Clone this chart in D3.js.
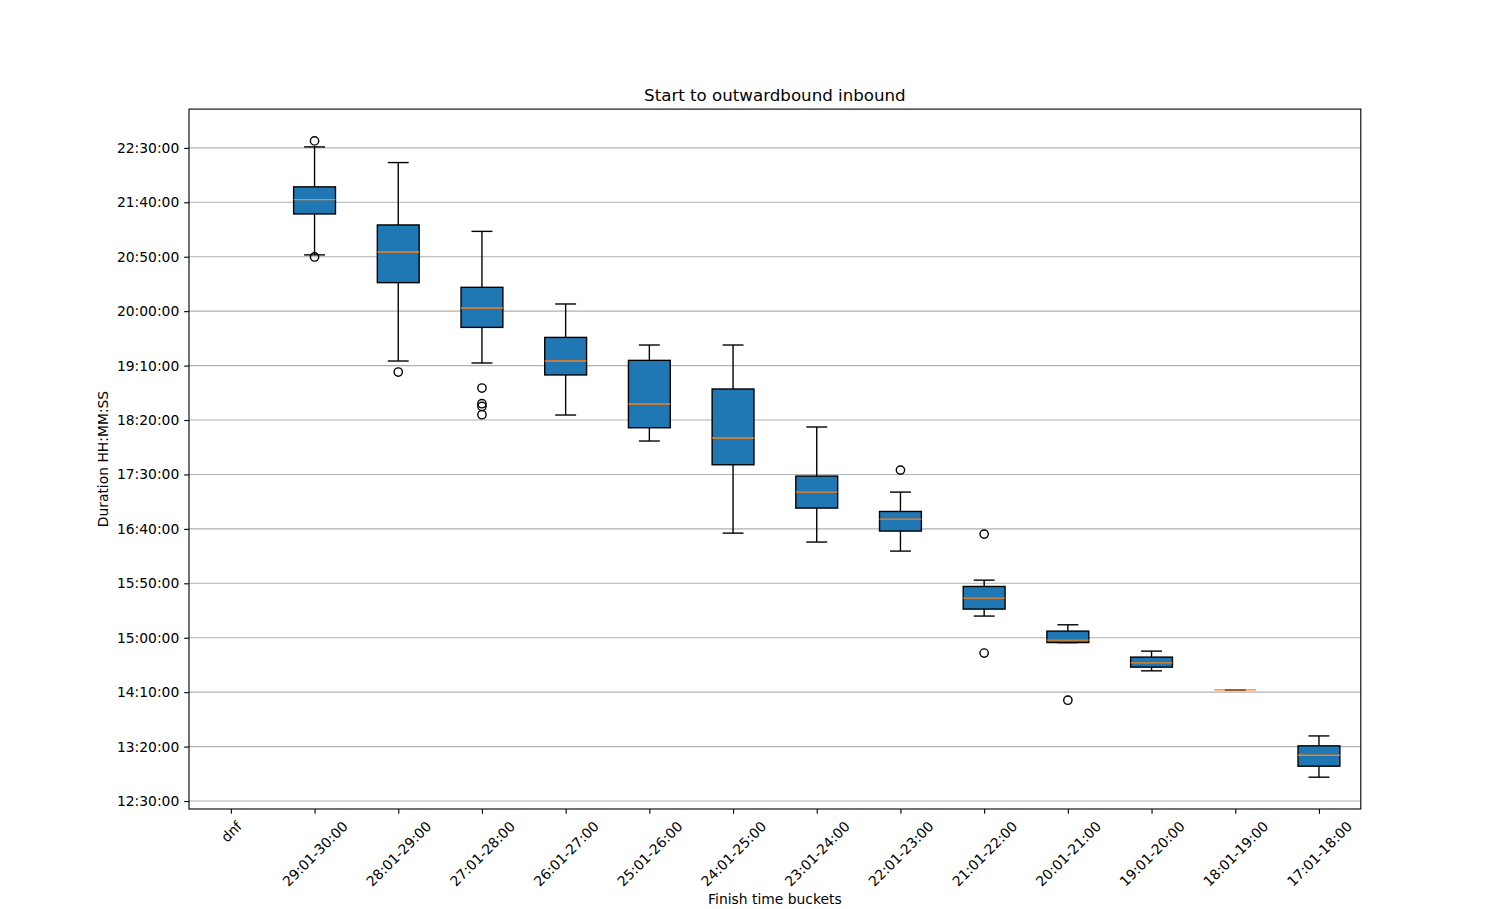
<!DOCTYPE html>
<html>
<head>
<meta charset="utf-8">
<script src="https://cdn.jsdelivr.net/npm/d3@7/dist/d3.min.js"></script>
<style>
  html, body { margin: 0; padding: 0; background: #fff; }
  svg text { font-family: "DejaVu Sans", sans-serif; fill: #000; }
</style>
</head>
<body>
<svg id="chart" width="1512" height="909"></svg>
<script>
// ---- data (durations in minutes) ----
const categories = ["dnf","29:01-30:00","28:01-29:00","27:01-28:00","26:01-27:00","25:01-26:00","24:01-25:00","23:01-24:00","22:01-23:00","21:01-22:00","20:01-21:00","19:01-20:00","18:01-19:00","17:01-18:00"];
const whiskerLow  = [null, 1251.7, 1154.2, 1152.4, 1104.6, 1080.7,  996.1,  987.9,  979.6, 919.9, 895.5, 869.6, 852.1, 771.9];
const quartile1   = [null, 1289.3, 1226.2, 1185.1, 1141.4, 1092.9, 1058.9, 1019.1,  998.0, 926.3, 895.6, 873.0, 852.1, 782.0];
const medians     = [null, 1302.5, 1254.4, 1202.9, 1154.2, 1114.7, 1083.5, 1033.8, 1009.0, 936.4, 897.8, 876.9, 852.1, 792.1];
const quartile3   = [null, 1314.2, 1279.2, 1221.9, 1175.9, 1154.8, 1128.5, 1048.5, 1016.0, 947.1, 906.1, 882.2, 852.1, 800.7];
const whiskerHigh = [null, 1350.9, 1336.5, 1273.3, 1206.6, 1168.9, 1168.9, 1093.6, 1033.8, 952.9, 911.9, 887.7, 852.1, 809.8];
const fliers = [[], [1356.4, 1249.8], [1144.1], [1129.4, 1115.0, 1112.5, 1104.9], [], [], [], [], [1054.0], [995.2, 885.9], [842.6], [], [], []];
const yTickValues = [750, 800, 850, 900, 950, 1000, 1050, 1100, 1150, 1200, 1250, 1300, 1350];

const titleText = "Start to outwardbound inbound";
const xLabelText = "Finish time buckets";
const yLabelText = "Duration HH:MM:SS";

(function () {
// ---- layout ----
const padL = 189, padR = 1360.8, padT = 109.1, padB = 809;
const pt = 100 / 72;
const svg = d3.select("#chart");

// domain like matplotlib (5% margins)
const allVals = [];
categories.forEach((c, i) => {
  if (whiskerLow[i] != null) allVals.push(whiskerLow[i], whiskerHigh[i]);
  fliers[i].forEach(v => allVals.push(v));
});
const vmin = d3.min(allVals), vmax = d3.max(allVals);
const pad = (vmax - vmin) * 0.05;

const x = d3.scaleLinear().domain([0.5, categories.length + 0.5]).range([padL, padR]);
const y = d3.scaleLinear().domain([vmin - pad, vmax + pad]).range([padB, padT]);

const fmt = m => {
  const h = Math.floor(m / 60), mm = Math.round(m % 60);
  return String(h).padStart(2, "0") + ":" + String(mm).padStart(2, "0") + ":00";
};

// grid
svg.append("g").selectAll("line").data(yTickValues).join("line")
  .attr("x1", padL).attr("x2", padR)
  .attr("y1", d => y(d)).attr("y2", d => y(d))
  .attr("stroke", "#b0b0b0").attr("stroke-width", 0.8 * pt);

// boxes
const bw = (x(2) - x(1)) * 0.5;
const g = svg.append("g");
categories.forEach((c, i) => {
  if (whiskerLow[i] == null) return;
  const cx = x(i + 1);
  const lw = 1 * pt;
  g.append("line").attr("x1", cx).attr("x2", cx).attr("y1", y(quartile1[i])).attr("y2", y(whiskerLow[i]))
    .attr("stroke", "#000").attr("stroke-width", lw);
  g.append("line").attr("x1", cx).attr("x2", cx).attr("y1", y(quartile3[i])).attr("y2", y(whiskerHigh[i]))
    .attr("stroke", "#000").attr("stroke-width", lw);
  [whiskerLow[i], whiskerHigh[i]].forEach(v => {
    g.append("line").attr("x1", cx - bw / 4).attr("x2", cx + bw / 4).attr("y1", y(v)).attr("y2", y(v))
      .attr("stroke", "#000").attr("stroke-width", lw);
  });
  g.append("rect").attr("x", cx - bw / 2).attr("width", bw)
    .attr("y", y(quartile3[i])).attr("height", Math.max(0, y(quartile1[i]) - y(quartile3[i])))
    .attr("fill", "#1f77b4").attr("stroke", "#000").attr("stroke-width", lw);
  g.append("line").attr("x1", cx - bw / 2).attr("x2", cx + bw / 2).attr("y1", y(medians[i])).attr("y2", y(medians[i]))
    .attr("stroke", "#ff7f0e").attr("stroke-width", lw);
  fliers[i].forEach(v => {
    g.append("circle").attr("cx", cx).attr("cy", y(v)).attr("r", 3 * pt)
      .attr("fill", "none").attr("stroke", "#000").attr("stroke-width", lw);
  });
});

// spines
svg.append("rect").attr("x", padL).attr("y", padT).attr("width", padR - padL).attr("height", padB - padT)
  .attr("fill", "none").attr("stroke", "#000").attr("stroke-width", 0.8 * pt);

// y axis
const fs = 10 * pt;
const yAxis = d3.axisLeft(y).tickValues(yTickValues).tickFormat(fmt).tickSize(3.5 * pt).tickPadding(3.5 * pt);
const ya = svg.append("g").attr("transform", `translate(${padL},0)`).call(yAxis);
ya.select(".domain").remove();
ya.selectAll("line").attr("stroke", "#000").attr("stroke-width", 0.8 * pt);
ya.selectAll("text").attr("font-size", fs).attr("font-family", "DejaVu Sans").attr("fill", "#000");

// x axis
const xAxis = d3.axisBottom(x).tickValues(d3.range(1, categories.length + 1)).tickFormat(d => categories[d - 1])
  .tickSize(3.5 * pt).tickPadding(3.5 * pt);
const xa = svg.append("g").attr("transform", `translate(0,${padB})`).call(xAxis);
xa.select(".domain").remove();
xa.selectAll("line").attr("stroke", "#000").attr("stroke-width", 0.8 * pt);
xa.selectAll("text").attr("font-size", fs).attr("font-family", "DejaVu Sans").attr("fill", "#000")
  .attr("dy", null)
  .each(function () {
    const t = d3.select(this);
    const w = this.getComputedTextLength();
    const h = fs * 1.0;
    const half = (w + h) / (2 * Math.SQRT2);
    const y0 = 3.5 * pt + 3.5 * pt + half;
    t.attr("text-anchor", "middle").attr("dominant-baseline", "central")
      .attr("y", y0).attr("x", 0)
      .attr("transform", `rotate(-45, 0, ${y0})`);
  });

// labels
svg.append("text").attr("x", (padL + padR) / 2).attr("y", 100.8).attr("text-anchor", "middle")
  .attr("font-size", 12 * pt).text(titleText);
svg.append("text").attr("x", (padL + padR) / 2).attr("y", 904).attr("text-anchor", "middle")
  .attr("font-size", fs).text(xLabelText);
svg.append("text").attr("transform", `translate(108,${(padT + padB) / 2}) rotate(-90)`).attr("text-anchor", "middle")
  .attr("font-size", fs).text(yLabelText);
})();
</script>
</body>
</html>
